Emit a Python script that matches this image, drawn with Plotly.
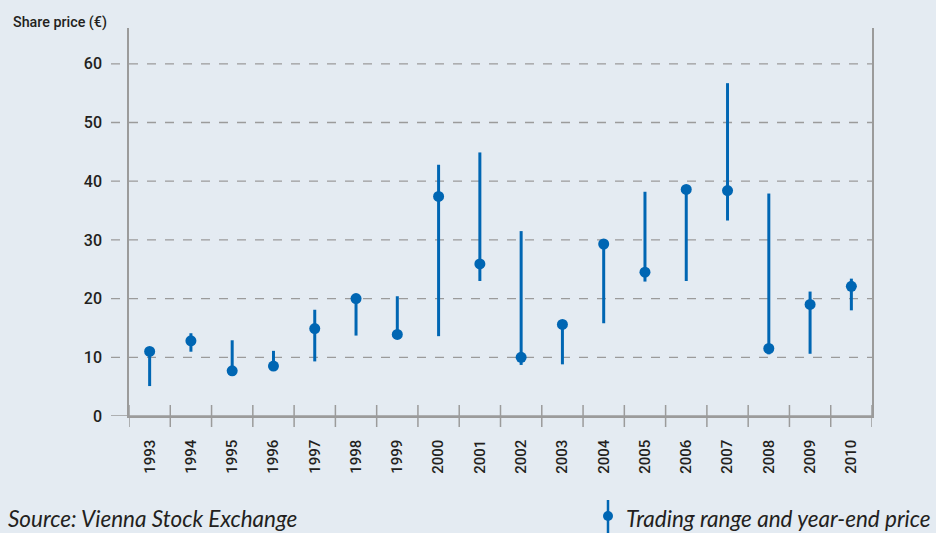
import plotly.graph_objects as go

years = [str(y) for y in range(1993, 2011)]
low = [5.1, 10.95, 7.7, 8.5, 9.3, 13.7, 13.9, 13.6, 23.0, 8.7, 8.8, 15.8, 22.9, 23.0, 33.3, 10.5, 10.6, 18.0]
high = [11.0, 14.1, 12.9, 11.1, 18.1, 20.0, 20.4, 42.8, 44.9, 31.5, 15.6, 29.3, 38.2, 38.6, 56.7, 37.9, 21.2, 23.4]
close = [11.0, 12.8, 7.7, 8.5, 14.9, 20.0, 13.9, 37.4, 25.9, 10.0, 15.6, 29.3, 24.5, 38.6, 38.4, 11.5, 19.0, 22.1]
yticks = [0, 10, 20, 30, 40, 50, 60]

BLUE = "#0066b3"
GRID = "#9b9b9b"
BG = "#e4ebf2"
TXT = "#231f20"
FONT = "Roboto, sans-serif"
IFONT = "Lato, Open Sans, sans-serif"

W, H = 936, 533
ML, MR, MT, MB = 129, 64, 28, 117
PW, PH = W - ML - MR, H - MT - MB

def px(xp):
    return (xp - ML) / PW

def py(yp):
    return (H - MB - yp) / PH

lx, ly = [], []
for yr, lo, hi in zip(years, low, high):
    lx += [yr, yr, None]
    ly += [lo, hi, None]

fig = go.Figure()
fig.add_trace(go.Scatter(x=lx, y=ly, mode="lines", line=dict(color=BLUE, width=3),
                         hoverinfo="skip", showlegend=False))
fig.add_trace(go.Scatter(x=years, y=close, mode="markers",
                         marker=dict(color=BLUE, size=11), showlegend=False))

shapes = []
for v in yticks:
    shapes.append(dict(type="line", xref="paper", yref="y", x0=px(111), x1=1, y0=v, y1=v,
                       line=dict(color=GRID, width=1.5 if v == 0 else 1.3,
                                 dash="solid" if v == 0 else "dash"), layer="below"))
for i in range(len(years) + 1):
    shapes.append(dict(type="line", xref="x", yref="paper", x0=i - 0.5, x1=i - 0.5,
                       y0=-11 / PH, y1=11 / PH, line=dict(color=GRID, width=1.5)))
shapes.append(dict(type="line", xref="paper", yref="paper", x0=px(608), x1=px(608),
                   y0=py(500), y1=py(533), line=dict(color=BLUE, width=2.5)))
shapes.append(dict(type="circle", xref="paper", yref="paper", x0=px(603), x1=px(613),
                   y0=py(521), y1=py(511), fillcolor=BLUE, line=dict(color=BLUE, width=0)))

annotations = [
    dict(text="Share price (€)", xref="paper", yref="paper", x=px(11), y=py(22),
         xanchor="left", yanchor="middle", showarrow=False,
         font=dict(family=FONT, size=14.3, color=TXT, weight=500)),
    dict(text="<i>Source: Vienna Stock Exchange</i>", xref="paper", yref="paper", x=px(6), y=py(518),
         xanchor="left", yanchor="middle", showarrow=False,
         font=dict(family=IFONT, size=22.5, color=TXT)),
    dict(text="<i>Trading range and year-end price</i>", xref="paper", yref="paper", x=px(624), y=py(518),
         xanchor="left", yanchor="middle", showarrow=False,
         font=dict(family=IFONT, size=22.5, color=TXT)),
]

fig.update_layout(
    width=W, height=H,
    margin=dict(l=ML, r=MR, t=MT, b=MB),
    paper_bgcolor=BG, plot_bgcolor=BG,
    shapes=shapes, annotations=annotations,
    font=dict(family=FONT, size=16, color=TXT),
    xaxis=dict(type="category", categoryorder="array", categoryarray=years,
               range=[-0.5, len(years) - 0.5], tickangle=-90,
               ticks="outside", ticklen=16, tickcolor="rgba(0,0,0,0)",
               showgrid=False, zeroline=False, showline=True, linecolor=GRID, linewidth=1.5,
               tickfont=dict(family=FONT, size=15, color=TXT, weight=500)),
    yaxis=dict(range=[0, (H - MB - MT) / ((416 - 63.8) / 60)], tickvals=yticks,
               ticks="outside", ticklen=22, tickcolor="rgba(0,0,0,0)",
               showgrid=False, zeroline=False, showline=True, mirror=True,
               linecolor=GRID, linewidth=1.5,
               tickfont=dict(family=FONT, size=16, color=TXT, weight=500)),
)

fig.write_html("out.html", config={"displayModeBar": False},
               post_script="document.body.style.margin='0';document.body.style.overflow='hidden';")
